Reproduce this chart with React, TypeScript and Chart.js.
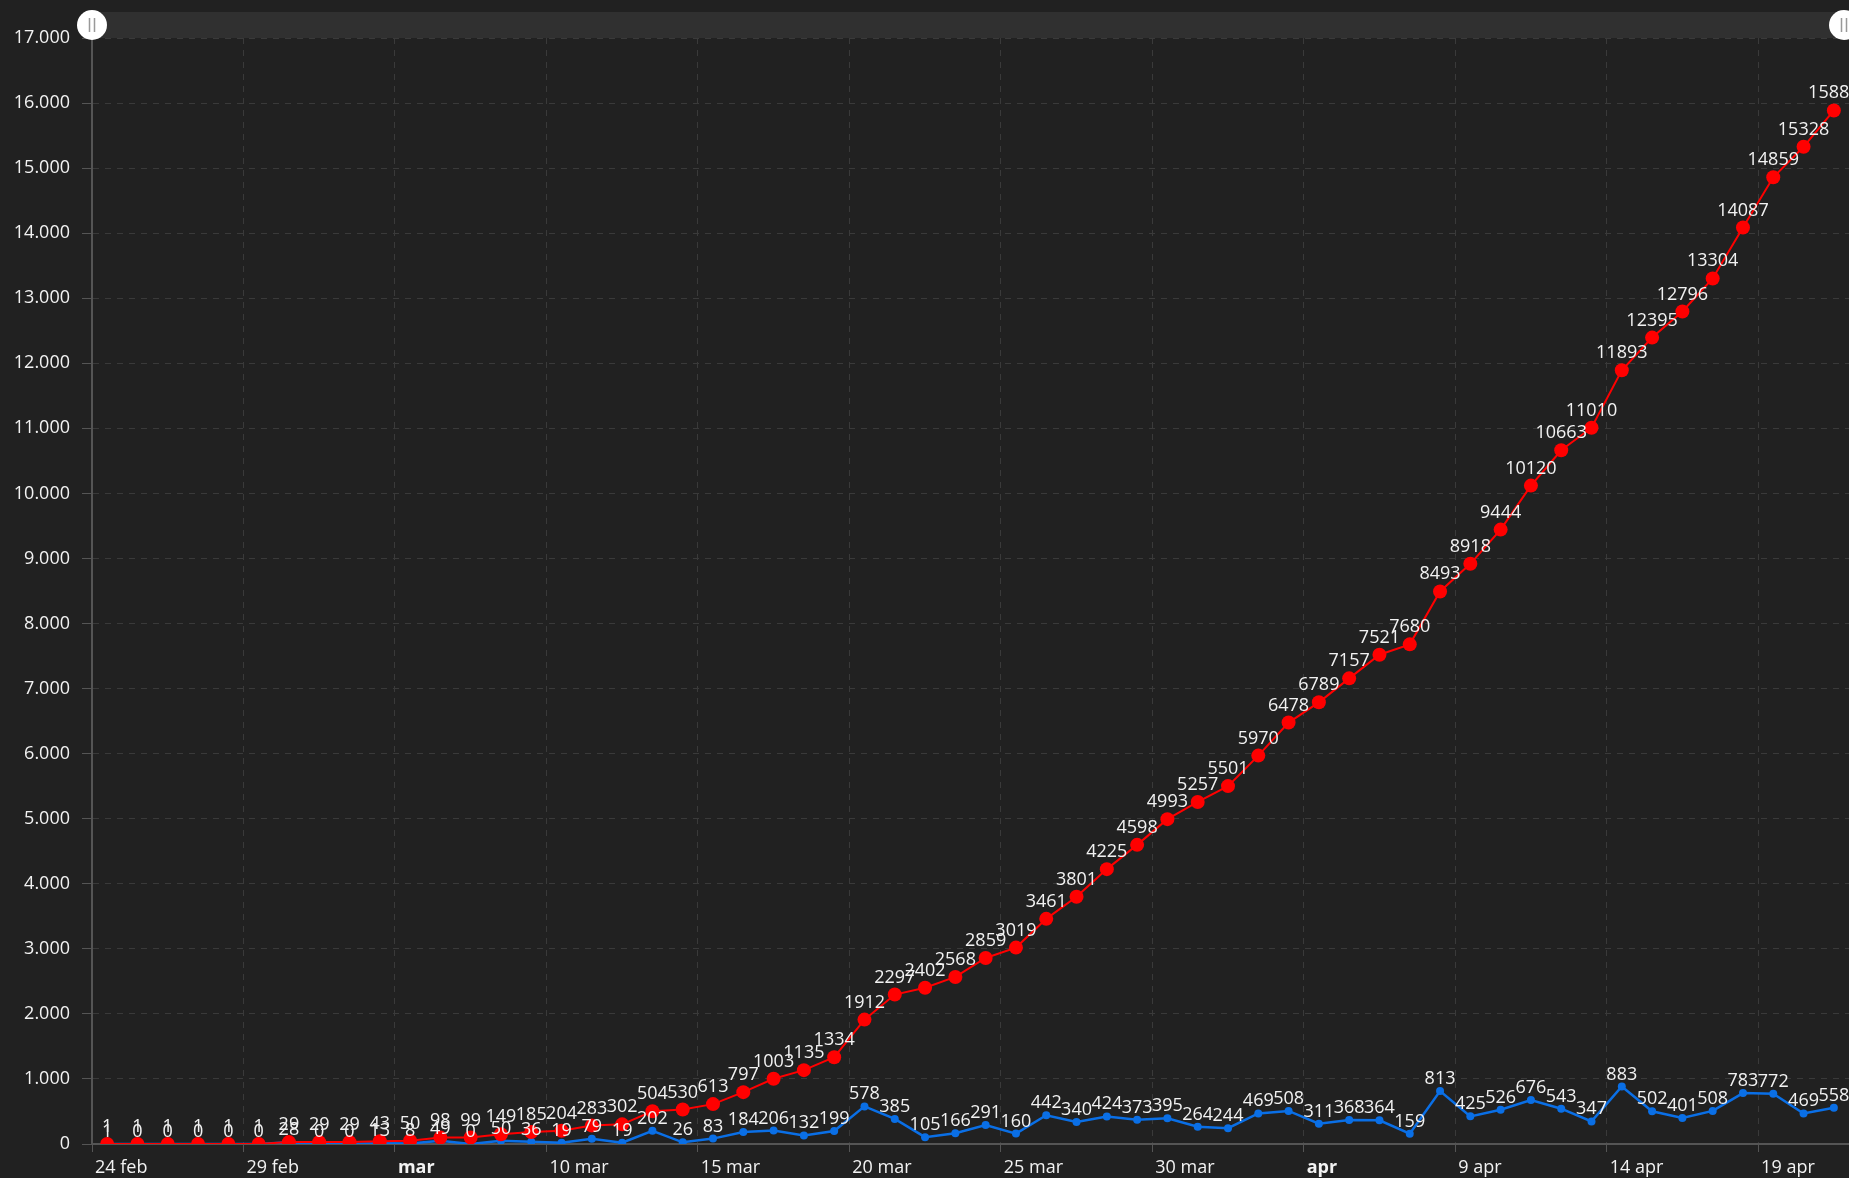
import React, { useEffect, useRef } from "react";
import { Chart, registerables } from "chart.js";

Chart.register(...registerables);

// Days from 24 feb to 21 apr
const dayLabels: string[] = [
  "24 feb", "25 feb", "26 feb", "27 feb", "28 feb", "29 feb",
  "1 mar", "2 mar", "3 mar", "4 mar", "5 mar", "6 mar", "7 mar", "8 mar", "9 mar", "10 mar",
  "11 mar", "12 mar", "13 mar", "14 mar", "15 mar", "16 mar", "17 mar", "18 mar", "19 mar", "20 mar",
  "21 mar", "22 mar", "23 mar", "24 mar", "25 mar", "26 mar", "27 mar", "28 mar", "29 mar", "30 mar", "31 mar",
  "1 apr", "2 apr", "3 apr", "4 apr", "5 apr", "6 apr", "7 apr", "8 apr", "9 apr", "10 apr",
  "11 apr", "12 apr", "13 apr", "14 apr", "15 apr", "16 apr", "17 apr", "18 apr", "19 apr", "20 apr", "21 apr",
];

const totalCases: number[] = [
  1, 1, 1, 1, 1, 1,
  29, 29, 29, 43, 50, 98, 99, 149, 185, 204,
  283, 302, 504, 530, 613, 797, 1003, 1135, 1334, 1912,
  2297, 2402, 2568, 2859, 3019, 3461, 3801, 4225, 4598, 4993, 5257,
  5501, 5970, 6478, 6789, 7157, 7521, 7680, 8493, 8918, 9444,
  10120, 10663, 11010, 11893, 12395, 12796, 13304, 14087, 14859, 15328, 15886,
];

const newCases: number[] = [
  1, 0, 0, 0, 0, 0,
  28, 0, 0, 13, 8, 49, 0, 50, 36, 19,
  79, 19, 202, 26, 83, 184, 206, 132, 199, 578,
  385, 105, 166, 291, 160, 442, 340, 424, 373, 395, 264,
  244, 469, 508, 311, 368, 364, 159, 813, 425, 526,
  676, 543, 347, 883, 502, 401, 508, 783, 772, 469, 558,
];

const xTickDays: number[] = [0, 5, 10, 15, 20, 25, 30, 35, 40, 45, 50, 55];
const xTickLabels: string[] = [
  "24 feb", "29 feb", "mar", "10 mar", "15 mar", "20 mar",
  "25 mar", "30 mar", "apr", "9 apr", "14 apr", "19 apr",
];
const xTickBold: boolean[] = [
  false, false, true, false, false, false,
  false, false, true, false, false, false,
];

const yMax = 17000;
const yStep = 1000;

const FONT = "'Open Sans', 'Noto Sans', sans-serif";
const TEXT = "#f2f2f2";
const GRID = "#3a3a3a";
const AXIS = "#555555";
const BG = "#212121";

const fmt = (v: number) => String(v).replace(/\B(?=(\d{3})+(?!\d))/g, ".");

const labelPlugin = {
  id: "pointLabels",
  afterDatasetsDraw(chart: any) {
    const ctx = chart.ctx;
    ctx.save();
    ctx.font = `18px ${FONT}`;
    ctx.fillStyle = TEXT;
    ctx.textAlign = "center";
    ctx.textBaseline = "alphabetic";
    chart.data.datasets.forEach((ds: any, di: number) => {
      const meta = chart.getDatasetMeta(di);
      const off = ds.labelOffset || 8;
      meta.data.forEach((pt: any, i: number) => {
        const v = ds.data[i].y;
        ctx.fillText(String(v), pt.x, pt.y - off);
      });
    });
    ctx.restore();
  },
};

const scrollbarPlugin = {
  id: "scrollbar",
  afterDraw(chart: any) {
    const ctx = chart.ctx;
    const { left, right } = chart.chartArea;
    const top = 12;
    const bottom = 38;
    const cy = (top + bottom) / 2;
    ctx.save();
    ctx.fillStyle = "#303030";
    ctx.fillRect(left, top, right - left, bottom - top);
    [left, right - 5].forEach((x) => {
      ctx.beginPath();
      ctx.arc(x, cy, 15, 0, Math.PI * 2);
      ctx.fillStyle = "#ffffff";
      ctx.fill();
      ctx.strokeStyle = "#999999";
      ctx.lineWidth = 1.5;
      ctx.beginPath();
      ctx.moveTo(x - 2.5, cy - 7);
      ctx.lineTo(x - 2.5, cy + 7);
      ctx.moveTo(x + 2.5, cy - 7);
      ctx.lineTo(x + 2.5, cy + 7);
      ctx.stroke();
    });
    ctx.restore();
  },
};

const bgPlugin = {
  id: "bg",
  beforeDraw(chart: any) {
    const ctx = chart.ctx;
    ctx.save();
    ctx.fillStyle = BG;
    ctx.fillRect(0, 0, chart.width, chart.height);
    ctx.restore();
  },
};

export default function App() {
  const ref = useRef<HTMLCanvasElement | null>(null);

  useEffect(() => {
    document.body.style.margin = "0";
    document.body.style.background = BG;
    if (!ref.current) return;

    const redData = totalCases.map((y, i) => ({ x: i + 0.5, y }));
    const blueData = newCases.map((y, i) => ({ x: i + 0.5, y }));

    const chart = new Chart(ref.current, {
      type: "line",
      data: {
        labels: dayLabels,
        datasets: [
          {
            label: "Totale",
            data: redData,
            borderColor: "#ff0000",
            backgroundColor: "#ff0000",
            borderWidth: 2,
            pointRadius: 7,
            pointBorderWidth: 0,
            pointBackgroundColor: "#ff0000",
            labelOffset: 12,
          } as any,
          {
            label: "Nuovi",
            data: blueData,
            borderColor: "#0a6fe6",
            backgroundColor: "#0a6fe6",
            borderWidth: 2.5,
            pointRadius: 4,
            pointBorderWidth: 0,
            pointBackgroundColor: "#0a6fe6",
            labelOffset: 7,
          } as any,
        ],
      },
      options: {
        animation: false,
        responsive: false,
        maintainAspectRatio: false,
        layout: { autoPadding: false, padding: { left: 0, right: 0, top: 38, bottom: 0 } },
        plugins: {
          legend: { display: false },
          tooltip: { enabled: false },
        },
        scales: {
          x: {
            type: "linear",
            min: 0,
            max: dayLabels.length,
            afterBuildTicks: (scale: any) => {
              scale.ticks = xTickDays.map((v) => ({ value: v }));
            },
            afterFit: (scale: any) => {
              scale.height = 34;
            },
            ticks: {
              autoSkip: false,
              maxRotation: 0,
              minRotation: 0,
              align: "start",
              labelOffset: 3,
              padding: 5,
              color: TEXT,
              font: (c: any) => {
                const idx = xTickDays.indexOf(c.tick ? c.tick.value : -1);
                return { family: FONT, size: 18, weight: idx >= 0 && xTickBold[idx] ? "bold" : "normal" };
              },
              callback: (v: any) => {
                const idx = xTickDays.indexOf(Number(v));
                return idx >= 0 ? xTickLabels[idx] : "";
              },
            },
            grid: {
              color: (c: any) => (c.tick && c.tick.value === 0 ? "transparent" : GRID),
              lineWidth: 1,
              tickLength: 8,
              tickColor: AXIS,
              tickBorderDash: [],
            },
            border: { display: true, color: AXIS, width: 2, dash: [6, 6] },
          } as any,
          y: {
            type: "linear",
            min: 0,
            max: yMax,
            afterFit: (scale: any) => {
              scale.width = 92;
            },
            ticks: {
              stepSize: yStep,
              padding: 12,
              color: TEXT,
              font: { family: FONT, size: 18 },
              callback: (v: any) => fmt(Number(v)),
            },
            grid: {
              color: (c: any) => (c.tick && c.tick.value === 0 ? "transparent" : GRID),
              lineWidth: 1,
              tickLength: 10,
              tickColor: AXIS,
              tickBorderDash: [],
            },
            border: { display: true, color: AXIS, width: 2, dash: [6, 6] },
          } as any,
        },
      },
      plugins: [bgPlugin, labelPlugin, scrollbarPlugin],
    });

    return () => chart.destroy();
  }, []);

  return (
    <div style={{ width: 1849, height: 1178, background: BG }}>
      <canvas ref={ref} width={1849} height={1178} style={{ display: "block" }} />
    </div>
  );
}
